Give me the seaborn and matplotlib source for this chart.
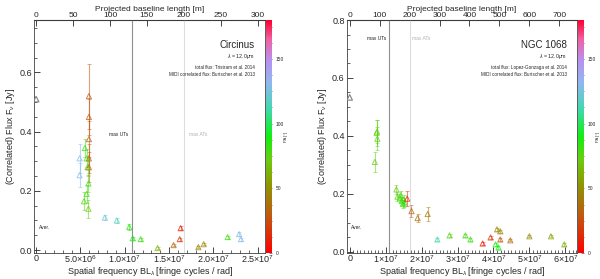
import numpy as np
import matplotlib
matplotlib.use("Agg")
import matplotlib.pyplot as plt
from matplotlib.colors import LinearSegmentedColormap, Normalize
from matplotlib.ticker import MultipleLocator, FixedLocator
import seaborn as sns

sns.set_style("ticks")
plt.rcParams["font.family"] = ["Liberation Sans", "DejaVu Sans"]
plt.rcParams["font.size"] = 7
plt.rcParams["mathtext.fontset"] = "custom"
plt.rcParams["mathtext.rm"] = "Liberation Sans"
plt.rcParams["mathtext.it"] = "Liberation Sans:italic"

LAM = 12e-6  # wavelength [m]

# ---- Circinus (x in units of 1e7 cycles/rad) ----
circ_x   = [0.595, 0.595, 0.595, 0.595, 0.595,
            0.55, 0.57, 0.58, 0.59, 0.57, 0.54, 0.59,
            0.49, 0.49,
            0.775, 0.91, 1.05, 1.09, 1.18, 1.37, 1.55, 1.63, 1.62, 1.83, 1.89, 2.16, 2.29, 2.31]
circ_y   = [0.52, 0.45, 0.375, 0.31, 0.28,
            0.345, 0.31, 0.28, 0.225, 0.19, 0.165, 0.14,
            0.31, 0.253,
            0.11, 0.10, 0.078, 0.04, 0.037, 0.007, 0.017, 0.074, 0.037, 0.01, 0.02, 0.044, 0.054, 0.037]
circ_err = [0.11, 0.06, 0.06, 0.05, 0.05,
            0.03, 0.03, 0.03, 0.03, 0.03, 0.03, 0.03,
            0.05, 0.04,
            0.01, 0.01, 0.01, 0.005, 0.005, 0.004, 0.004, 0.006, 0.005, 0.004, 0.004, 0.005, 0.006, 0.005]
circ_pa  = [28, 28, 28, 28, 28,
            80, 80, 75, 80, 80, 78, 72,
            128, 128,
            125, 118, 85, 88, 82, 62, 35, 10, 18, 48, 45, 80, 128, 130]
circ_total = 0.51

# ---- NGC 1068 ----
ngc_x   = [0.75, 0.77, 0.76, 0.70,
           1.30, 1.33, 1.40, 1.45, 1.48, 1.50, 1.52, 1.42,
           1.60, 1.72, 1.89, 2.17,
           2.44, 2.78, 3.22, 3.36, 3.70, 3.92, 4.10, 4.19, 4.19, 4.06, 4.14, 4.47, 5.00, 5.60, 5.97]
ngc_y   = [0.41, 0.39, 0.415, 0.31,
           0.215, 0.19, 0.185, 0.175, 0.165, 0.18, 0.17, 0.195,
           0.183, 0.14, 0.116, 0.13,
           0.042, 0.056, 0.056, 0.042, 0.028, 0.049, 0.077, 0.07, 0.042, 0.025, 0.014, 0.039, 0.053, 0.053, 0.025]
ngc_err = [0.045, 0.04, 0.04, 0.035,
           0.015, 0.015, 0.015, 0.015, 0.015, 0.015, 0.015, 0.015,
           0.025, 0.02, 0.015, 0.025,
           0.004, 0.004, 0.004, 0.004, 0.004, 0.004, 0.005, 0.005, 0.004, 0.004, 0.004, 0.004, 0.004, 0.004, 0.004]
ngc_pa  = [75, 75, 75, 72,
           72, 78, 80, 82, 80, 76, 84, 78,
           12, 32, 36, 42,
           112, 78, 78, 82, 8, 15, 48, 45, 30, 88, 90, 35, 50, 58, 62]
ngc_total = 0.533

pa_ticks = [0, 50, 100, 150]

cmap = LinearSegmentedColormap.from_list("pa", [
    (0.00, "#ff0000"), (0.16, "#c05a10"), (0.30, "#8c9a00"), (0.40, "#6ccc10"),
    (0.50, "#10f010"), (0.62, "#40d8b0"), (0.73, "#90b8f0"), (0.83, "#b890f0"),
    (0.92, "#f060a0"), (1.00, "#ff0030")])
norm = Normalize(0, 180)

fig = plt.figure(figsize=(6.0, 2.79), dpi=100)


def panel(rect, crect, xs, ys, errs, pas, total, xlim, ylim, xticks, xlabels, bticks,
          name, lines, ut_txt, at_txt):
    ax = fig.add_axes(rect)
    x = np.array(xs) * 1e7
    for xi, yi, ei, pi in zip(x, ys, errs, pas):
        ax.errorbar(xi, yi, yerr=ei, fmt="none", ecolor=cmap(norm(pi)), elinewidth=0.8,
                    alpha=0.55, capsize=1.2, capthick=0.6, zorder=2)
    sns.scatterplot(x=x, y=ys, hue=pas, palette=cmap, hue_norm=norm, marker="^", s=14,
                    linewidth=0.7, alpha=0.75, legend=False, ax=ax, zorder=3)
    coll = ax.collections[-1]
    coll.set_edgecolors(coll.get_facecolors())
    coll.set_facecolors("none")
    ax.scatter([0], [total], marker="^", s=16, facecolors="none", edgecolors="#808080",
               linewidths=0.8, zorder=3)
    ax.axvline(130 / LAM, color="#909090", lw=0.8, zorder=1)
    ax.axvline(200 / LAM, color="#dddddd", lw=0.8, zorder=1)
    ax.text(ut_txt[0], ut_txt[1], "max UTs", fontsize=3.5, ha="right", color="#202020")
    ax.text(at_txt[0], at_txt[1], "max ATs", fontsize=3.5, ha="left", color="#b0b0b0")
    ax.set_xlim(*xlim)
    ax.set_ylim(*ylim)
    ax.xaxis.set_major_locator(FixedLocator(xticks))
    ax.set_xticklabels(xlabels)
    ax.xaxis.set_minor_locator(MultipleLocator(1e6))
    ax.yaxis.set_major_locator(MultipleLocator(0.2))
    ax.yaxis.set_minor_locator(MultipleLocator(0.05))
    ax.yaxis.set_major_formatter(plt.FuncFormatter(lambda v, p: f"{v:.1f}"))
    ax.tick_params(which="both", direction="in", labelsize=6.5, pad=1.5)
    ax.tick_params(axis="x", pad=0.5)
    ax.tick_params(which="major", length=4, width=0.6)
    ax.tick_params(which="minor", length=2, width=0.5)
    ax.tick_params(axis="x", top=False)
    ax.set_xlabel(r"Spatial frequency BL$_\lambda$ [fringe cycles / rad]", fontsize=6.5, labelpad=0)
    ax.set_ylabel(r"(Correlated) Flux F$_\nu$ [Jy]", fontsize=6.5, labelpad=2)
    for s in ax.spines.values():
        s.set_linewidth(0.6)
        s.set_color("#404040")
    sec = ax.secondary_xaxis("top", functions=(lambda v: v * LAM, lambda b: b / LAM))
    sec.xaxis.set_major_locator(FixedLocator(bticks))
    sec.tick_params(which="both", direction="in", labelsize=6, pad=0.5, length=4, width=0.6)
    sec.set_xlabel("Projected baseline length [m]", fontsize=6, labelpad=0.8)
    ax.text(0.955, 0.895, name, transform=ax.transAxes, ha="right", va="center", fontsize=7)
    ax.text(0.955, 0.845, r"$\lambda$ = 12.0$\mu$m", transform=ax.transAxes, ha="right",
            va="center", fontsize=3.8)
    ax.text(0.955, 0.795, lines[0], transform=ax.transAxes, ha="right", va="center", fontsize=3.3)
    ax.text(0.955, 0.765, lines[1], transform=ax.transAxes, ha="right", va="center", fontsize=3.3)
    ax.text(0.02, 0.11, "Aver.", transform=ax.transAxes, ha="left", va="center", fontsize=3.5)

    cax = fig.add_axes(crect)
    cb = fig.colorbar(plt.cm.ScalarMappable(norm=norm, cmap=cmap), cax=cax, ticks=pa_ticks)
    cb.outline.set_visible(False)
    cb.ax.tick_params(labelsize=3.5, length=2, width=0.4, direction="in", pad=2.5)
    cb.ax.yaxis.set_minor_locator(MultipleLocator(12.5))
    cb.ax.tick_params(which="minor", length=1.5, width=0.4, direction="in")
    cb.set_label("PA [°]", fontsize=3, labelpad=0)
    return ax


panel([0.057, 0.093, 0.385, 0.835], [0.444, 0.093, 0.010, 0.835],
      circ_x, circ_y, circ_err, circ_pa, circ_total,
      (-0.22e6, 2.584e7), (-0.01, 0.777),
      [0, 5e6, 1e7, 1.5e7, 2e7, 2.5e7],
      ["0", r"5.0$\times$10$^6$", r"1.0$\times$10$^7$", r"1.5$\times$10$^7$",
       r"2.0$\times$10$^7$", r"2.5$\times$10$^7$"],
      [0, 50, 100, 150, 200, 250, 300],
      "Circinus", ["total flux: Tristram et al. 2014", "MIDI correlated flux: Burtscher et al. 2013"],
      (1.04e7, 0.385), (1.72e7, 0.385))

panel([0.578, 0.093, 0.384, 0.835], [0.964, 0.093, 0.010, 0.835],
      ngc_x, ngc_y, ngc_err, ngc_pa, ngc_total,
      (-0.08e7, 6.33e7), (-0.005, 0.8),
      [0, 1e7, 2e7, 3e7, 4e7, 5e7, 6e7],
      ["0"] + [rf"{i}$\times$10$^7$" for i in range(1, 7)],
      [0, 100, 200, 300, 400, 500, 600, 700],
      "NGC 1068", ["total flux: Lopez-Gonzaga et al. 2014", "MIDI correlated flux: Burtscher et al. 2013"],
      (1.03e7, 0.73), (1.74e7, 0.73))

fig.savefig("out.png", dpi=100)
